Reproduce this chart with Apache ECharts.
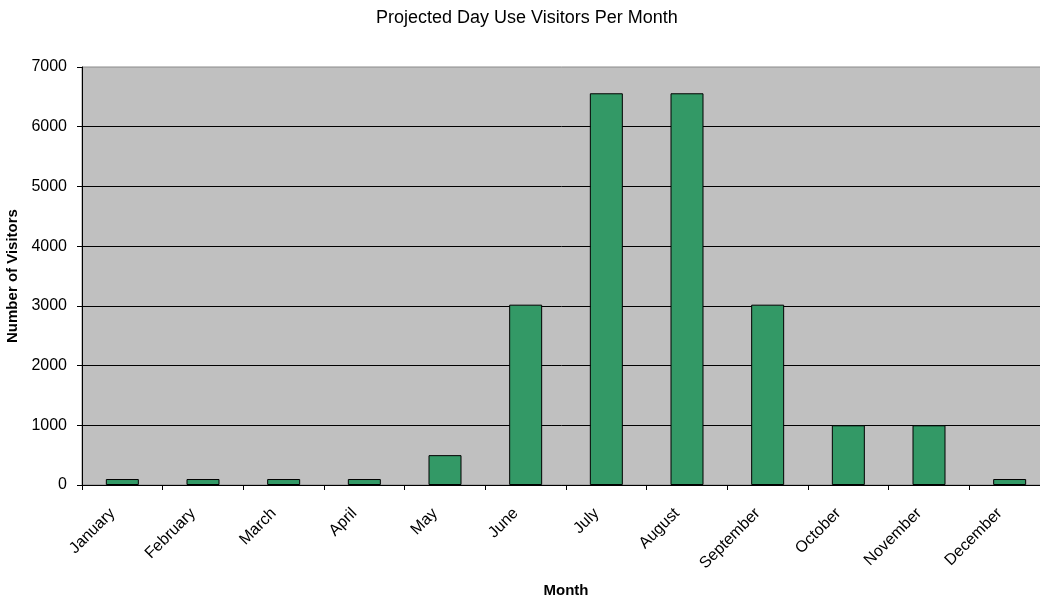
<!DOCTYPE html>
<html>
<head>
<meta charset="utf-8">
<script src="https://cdn.jsdelivr.net/npm/echarts@6/dist/echarts.min.js"></script>
<style>
  html, body { margin: 0; padding: 0; background: #fff; }
  #chart { width: 1040px; height: 602px; }
</style>
</head>
<body>
<div id="chart"></div>
<script>
// Projected day-use visitors by month
const months = ['January', 'February', 'March', 'April', 'May', 'June',
                'July', 'August', 'September', 'October', 'November', 'December'];
const visitors = [100, 100, 100, 100, 500, 3020, 6560, 6560, 3020, 1000, 1000, 100];
const yTicks = [0, 1000, 2000, 3000, 4000, 5000, 6000, 7000];

const font = 'Liberation Sans, Arial, sans-serif';

const chart = echarts.init(document.getElementById('chart'), null, { renderer: 'canvas' });
chart.setOption({
  animation: false,
  backgroundColor: '#ffffff',
  title: {
    text: 'Projected Day Use Visitors Per Month',
    left: 371,
    top: 4,
    textStyle: { fontFamily: font, fontSize: 18, fontWeight: 'normal', color: '#000' }
  },
  grid: {
    left: 82, right: -10, top: 67, bottom: 117,
    outerBoundsMode: 'none',
    containLabel: false,
    show: true, backgroundColor: '#C0C0C0', borderColor: '#8a8a8a', borderWidth: 1
  },
  xAxis: {
    type: 'category',
    data: months,
    name: 'Month',
    nameLocation: 'middle',
    nameGap: 98,
    nameTextStyle: { fontFamily: font, fontSize: 15, fontWeight: 'bold', color: '#000' },
    axisLine: { lineStyle: { color: '#000', width: 1 } },
    axisTick: { show: true, alignWithLabel: false, length: 5, lineStyle: { color: '#000' } },
    axisLabel: {
      rotate: 45, fontFamily: font, fontSize: 16, color: '#000', margin: 16, interval: 0,
      padding: [0, 14, 0, 0]
    },
    splitLine: { show: false }
  },
  yAxis: {
    type: 'value',
    min: yTicks[0],
    max: yTicks[yTicks.length - 1],
    interval: yTicks[1] - yTicks[0],
    name: 'Number of Visitors',
    nameLocation: 'middle',
    nameGap: 59,
    nameRotate: 90,
    nameTextStyle: { fontFamily: font, fontSize: 15, fontWeight: 'bold', color: '#000' },
    axisLine: { show: true, lineStyle: { color: '#000', width: 1 } },
    axisTick: { show: true, length: 5, lineStyle: { color: '#000' } },
    axisLabel: {
      fontFamily: font, fontSize: 16, color: '#000', margin: 15,
      formatter: v => String(v)
    },
    splitLine: { show: true, showMaxLine: false, lineStyle: { color: '#000', width: 1 } }
  },
  series: [{
    type: 'bar',
    data: visitors,
    barWidth: 33,
    itemStyle: { color: '#339966', borderColor: '#000', borderWidth: 1 }
  }]
});
</script>
</body>
</html>
